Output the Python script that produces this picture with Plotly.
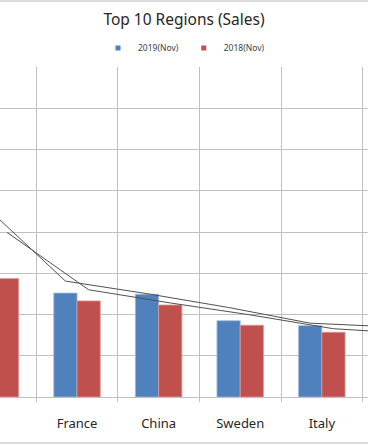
import plotly.graph_objects as go

# ---- data (outer neighbours lie outside the frame) ----
regions = ["Region A", "UK", "France", "China", "Sweden", "Italy", "Region G"]
sales_2019 = [6220, 3100, 2520, 2490, 1850, 1730, 1670]
sales_2018 = [5110, 2870, 2330, 2230, 1740, 1570, 1500]
series_names = ["2019(Nov)", "2018(Nov)"]
y_ticks = [0, 1000, 2000, 3000, 4000, 5000, 6000, 7000, 8000]

BLUE = "#4F81BD"
RED = "#C0504D"
GRID = "#c0c0c0"
TREND = "#505050"

BARGAP = 0.43
X_RANGE = [1.056, 5.566]
W, H = 368, 445
M_L, M_R, M_T, M_B = 0, 0, 67, 48


def moving_average(vals, period=2):
    out = [None] * (period - 1)
    for i in range(period - 1, len(vals)):
        out.append(sum(vals[i - period + 1:i + 1]) / period)
    return out


# trendline points sit at each series' own bar centre (as in Excel)
half = (1 - BARGAP) / 4
idx = list(range(len(regions)))
x_2019 = [i - half for i in idx]
x_2018 = [i + half for i in idx]

fig = go.Figure()
fig.add_bar(x=regions, y=sales_2019, name=series_names[0], showlegend=False,
            marker=dict(color=BLUE, line=dict(color="#9dbbe0", width=0.8)),
            hoverinfo="skip")
fig.add_bar(x=regions, y=sales_2018, name=series_names[1], showlegend=False,
            marker=dict(color=RED, line=dict(color="#e09a98", width=0.8)),
            hoverinfo="skip")

fig.add_scatter(x=x_2019, y=moving_average(sales_2019), xaxis="x2", mode="lines",
                line=dict(color=TREND, width=1), showlegend=False, hoverinfo="skip")
fig.add_scatter(x=x_2018, y=moving_average(sales_2018), xaxis="x2", mode="lines",
                line=dict(color=TREND, width=1), showlegend=False, hoverinfo="skip")

# legend entries
for nm, col in zip(series_names, [BLUE, RED]):
    fig.add_scatter(x=[None], y=[None], mode="markers", name=nm,
                    marker=dict(symbol="square", size=5, color=col))

plot_h = H - M_T - M_B


def py(pix):
    return (H - M_B - pix) / plot_h


fig.update_layout(
    width=W, height=H,
    margin=dict(l=M_L, r=M_R, t=M_T, b=M_B),
    paper_bgcolor="white", plot_bgcolor="white",
    barmode="group", bargap=BARGAP, bargroupgap=0,
    title=dict(text="Top 10 Regions (Sales)", x=0.5, xanchor="center",
               y=1 - 20 / H, yanchor="middle",
               font=dict(family="Noto Sans", size=15.5, color="#262626")),
    legend=dict(orientation="h", x=0.5, xanchor="center", y=py(48), yanchor="middle",
                font=dict(family="Noto Sans", size=8.5, color="#404040"),
                bgcolor="rgba(0,0,0,0)", itemwidth=30),
    font=dict(family="Noto Sans", color="#262626"),
    hovermode=False,
    xaxis=dict(type="category", range=X_RANGE, tickson="boundaries",
               showgrid=True, gridcolor=GRID, gridwidth=1,
               ticks="outside", ticklen=4, tickcolor=GRID,
               showline=True, linecolor=GRID, linewidth=1,
               tickfont=dict(family="Noto Sans", size=13, color="#262626"),
               ticklabelstandoff=14, fixedrange=True),
    xaxis2=dict(overlaying="x", range=X_RANGE, visible=False, fixedrange=True),
    yaxis=dict(range=[0, 8000], tickvals=y_ticks, showgrid=True, gridcolor=GRID,
               gridwidth=1, showticklabels=False, zeroline=False, fixedrange=True),
    shapes=[
        dict(type="line", xref="paper", yref="paper", x0=-0.1, x1=1.1,
             y0=py(1), y1=py(1), line=dict(color="#d0d0d0", width=1.5)),
        dict(type="line", xref="paper", yref="paper", x0=-0.1, x1=1.1,
             y0=py(443), y1=py(443), line=dict(color="#d0d0d0", width=1.5)),
    ],
)

fig.write_html("out.html",
               config={"displayModeBar": False, "staticPlot": True},
               post_script="document.body.style.margin='0';document.body.style.overflow='hidden';")
